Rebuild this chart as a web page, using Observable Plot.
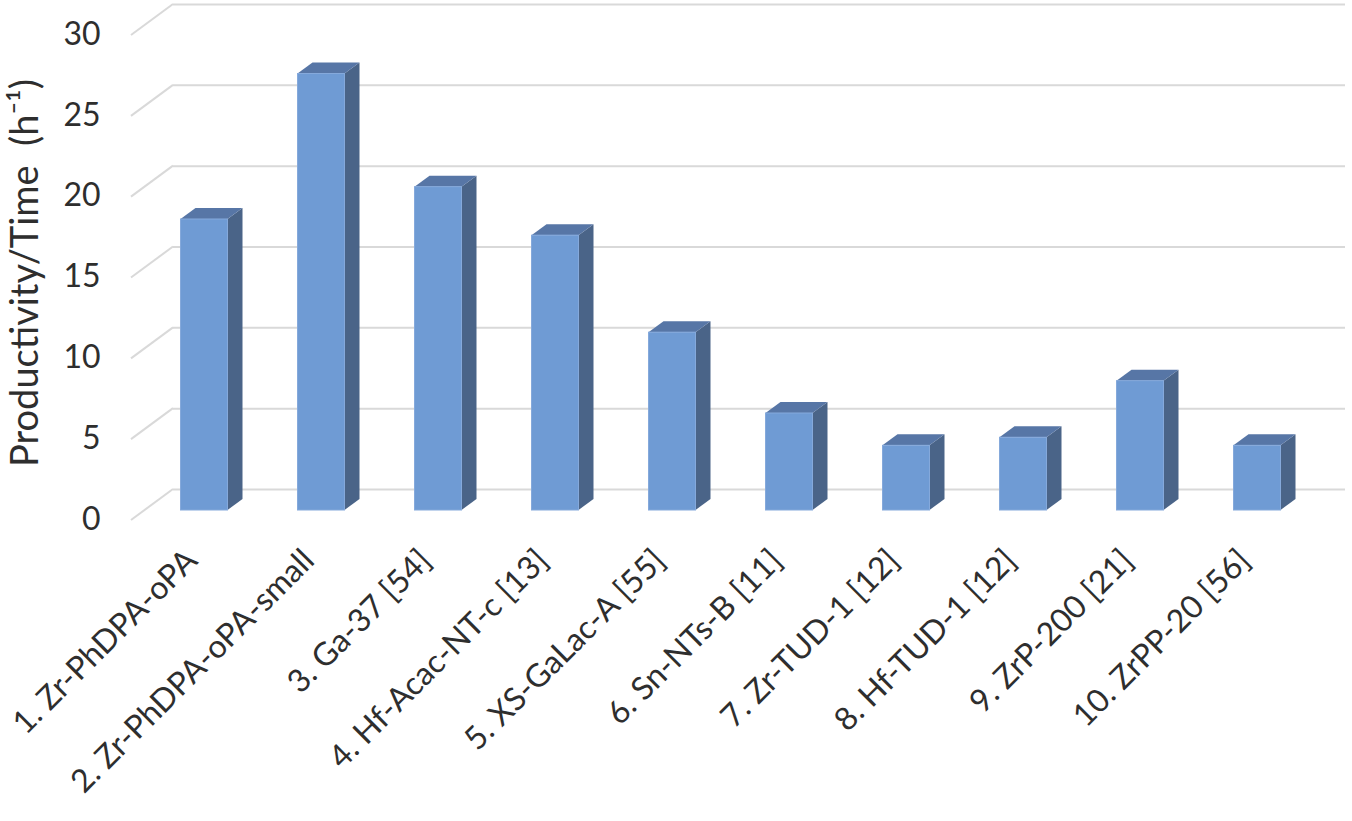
<!DOCTYPE html>
<html>
<head>
<meta charset="utf-8">
<script src="https://cdn.jsdelivr.net/npm/d3@7"></script>
<script src="https://cdn.jsdelivr.net/npm/@observablehq/plot@0.6"></script>
<style>
  html, body { margin: 0; padding: 0; background: #fff; }
  #chart svg { display: block; }
</style>
</head>
<body>
<div id="chart"></div>
<script>
// ---- data ----
const categories = [
  "1. Zr-PhDPA-oPA",
  "2. Zr-PhDPA-oPA-small",
  "3. Ga-37 [54]",
  "4. Hf-Acac-NT-c [13]",
  "5. XS-GaLac-A [55]",
  "6. Sn-NTs-B [11]",
  "7. Zr-TUD-1 [12]",
  "8. Hf-TUD-1 [12]",
  "9. ZrP-200 [21]",
  "10. ZrPP-20 [56]"
];
const values = [18, 27, 20, 17, 11, 6, 4, 4.5, 8, 4];
const yTicks = [0, 5, 10, 15, 20, 25, 30];
const yTitle = "Productivity/Time\u00A0 (h\u207B\u00B9)";

const data = categories.map((c, i) => ({cat: c, value: values[i]}));

// ---- style / 3D geometry ----
const FRONT = "#6f9bd4", SIDE = "#4a6488", TOP = "#5776a6";
const GRID = "#d9d9d9";
const TEXT = "#2e2e2e";
const FONT = "Lato, 'Open Sans', sans-serif";
const WALL_DX = 42, WALL_DY = -31;   // axis plane -> back wall
const FACE_DX = 13.5, FACE_DY = -10; // axis plane -> bar front face
const DEPTH_DX = 15, DEPTH_DY = -11; // bar depth

function diagonals(index, scales, values, dimensions) {
  const g = d3.create("svg:g").attr("stroke", GRID).attr("stroke-width", 2).attr("fill", "none");
  const x0 = dimensions.marginLeft;
  for (const t of yTicks) {
    const y = scales.y(t);
    g.append("path").attr("d", `M${x0},${y}L${x0 + WALL_DX},${y + WALL_DY}`);
  }
  return g.node();
}

function barSides(index, scales) {
  const g = d3.create("svg:g");
  const bw = typeof scales.x.bandwidth === "function" ? scales.x.bandwidth() : scales.scales.x.bandwidth;
  for (const d of data) {
    const xl = scales.x(d.cat) + FACE_DX, xr = xl + bw;
    const yt = scales.y(d.value) + FACE_DY, yb = scales.y(0) + FACE_DY;
    g.append("path")
      .attr("d", `M${xr},${yt}L${xr + DEPTH_DX},${yt + DEPTH_DY}L${xr + DEPTH_DX},${yb + DEPTH_DY}L${xr},${yb}Z`)
      .attr("fill", SIDE);
    g.append("path")
      .attr("d", `M${xl},${yt}L${xl + DEPTH_DX},${yt + DEPTH_DY}L${xr + DEPTH_DX},${yt + DEPTH_DY}L${xr},${yt}Z`)
      .attr("fill", TOP);
  }
  return g.node();
}

const chart = Plot.plot({
  width: 1352,
  height: 821,
  marginLeft: 131,
  marginRight: 49,
  marginTop: 35,
  marginBottom: 301,
  style: {fontFamily: FONT, color: TEXT, background: "#fff"},
  x: {type: "band", domain: categories, paddingInner: 0.6, paddingOuter: 0.3, axis: null},
  y: {domain: [0, 30], axis: null},
  marks: [
    Plot.ruleY(yTicks, {stroke: GRID, strokeWidth: 2, dx: WALL_DX, dy: WALL_DY}),
    diagonals,
    barSides,
    Plot.barY(data, {x: "cat", y: "value", fill: FRONT, stroke: "#85a9db", strokeWidth: 1, dx: FACE_DX, dy: FACE_DY}),
    Plot.text(yTicks, {y: d => d, frameAnchor: "left", text: d => String(d), textAnchor: "end",
      dx: -31, dy: -1, fontSize: 32, fill: TEXT}),
    Plot.text(categories, {x: d => d, frameAnchor: "bottom", text: d => d, rotate: -45, textAnchor: "end",
      dx: 8, dy: 42, fontSize: 32, fill: TEXT}),
    Plot.text([yTitle], {frameAnchor: "left", text: d => d, rotate: -90, textAnchor: "middle",
      dx: -106, dy: -5, fontSize: 38, fill: TEXT})
  ]
});
document.getElementById("chart").appendChild(chart);
</script>
</body>
</html>
